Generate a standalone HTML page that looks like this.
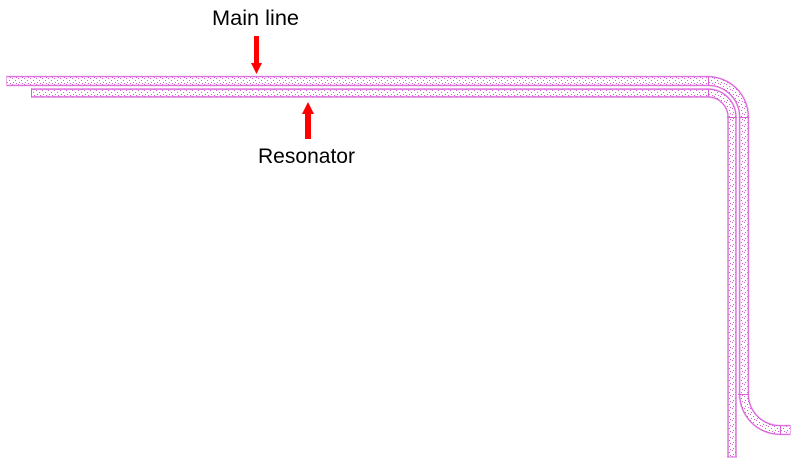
<!DOCTYPE html>
<html>
<head>
<meta charset="utf-8">
<style>
  html, body { margin: 0; padding: 0; background: #ffffff; }
  body { width: 797px; height: 467px; overflow: hidden; }
  svg { display: block; }
  text { font-family: "Liberation Sans", "DejaVu Sans", sans-serif; fill: #000; }
</style>
</head>
<body>
<svg width="797" height="467" viewBox="0 0 797 467" xmlns="http://www.w3.org/2000/svg">
  <defs>
    <pattern id="dots" x="0" y="0" width="6" height="6" patternUnits="userSpaceOnUse">
      <rect x="0" y="0" width="6" height="6" fill="#ffffff"/>
      <rect x="0" y="0" width="1" height="1" fill="#d85ad8"/>
      <rect x="3" y="2" width="1" height="1" fill="#d85ad8"/>
      <rect x="1" y="4" width="1" height="1" fill="#d85ad8"/>
      <rect x="4" y="5" width="1" height="1" fill="#d85ad8"/>
    </pattern>
  </defs>

  <!-- Main line -->
  <path d="M6,81 L708,81 A36,36 0 0 1 744,117 L744,394 A36,36 0 0 0 780,430 L791,430"
        fill="none" stroke="#ebaaeb" stroke-width="10.6"/>
  <path d="M6,81 L708,81 A36,36 0 0 1 744,117 L744,394 A36,36 0 0 0 780,430 L791,430"
        fill="none" stroke="#d660d6" stroke-width="9.4"/>
  <path d="M6,81 L708,81 A36,36 0 0 1 744,117 L744,394 A36,36 0 0 0 780,430 L791,430"
        fill="none" stroke="url(#dots)" stroke-width="7.4"/>

  <!-- Resonator -->
  <path d="M31,93 L708,93 A24,24 0 0 1 732,117 L732,457"
        fill="none" stroke="#ebaaeb" stroke-width="9.8"/>
  <path d="M31,93 L708,93 A24,24 0 0 1 732,117 L732,457"
        fill="none" stroke="#d660d6" stroke-width="8.6"/>
  <path d="M31,93 L708,93 A24,24 0 0 1 732,117 L732,457"
        fill="none" stroke="url(#dots)" stroke-width="6.6"/>

  <!-- segment dividers / end caps -->
  <g stroke="#d660d6" stroke-width="1">
    <line x1="708.5" y1="76" x2="708.5" y2="86"/>
    <line x1="708.5" y1="89" x2="708.5" y2="97"/>
    <line x1="739" y1="117.5" x2="749" y2="117.5"/>
    <line x1="727" y1="117.5" x2="737" y2="117.5"/>
    <line x1="738" y1="394.5" x2="749" y2="394.5"/>
    <line x1="780.5" y1="425" x2="780.5" y2="435"/>
    <line x1="31.5" y1="88.5" x2="31.5" y2="97.5"/>
    <line x1="727" y1="457" x2="737" y2="457"/>
  </g>
  <g stroke="#ebaaeb" stroke-width="1">
    <line x1="6.5" y1="76" x2="6.5" y2="86"/>
    <line x1="790.5" y1="425" x2="790.5" y2="435"/>
  </g>

  <!-- Red arrows -->
  <rect x="254" y="36" width="5" height="28" fill="#ff0000"/>
  <polygon points="251,63 262,63 256.5,74" fill="#ff0000"/>
  <rect x="305" y="113" width="6" height="26" fill="#ff0000"/>
  <polygon points="302,114 314,114 308,102" fill="#ff0000"/>

  <!-- Labels -->
  <text x="212" y="25" font-size="21" textLength="87" lengthAdjust="spacingAndGlyphs">Main line</text>
  <text x="258" y="163" font-size="21" textLength="97" lengthAdjust="spacingAndGlyphs">Resonator</text>
</svg>
</body>
</html>
